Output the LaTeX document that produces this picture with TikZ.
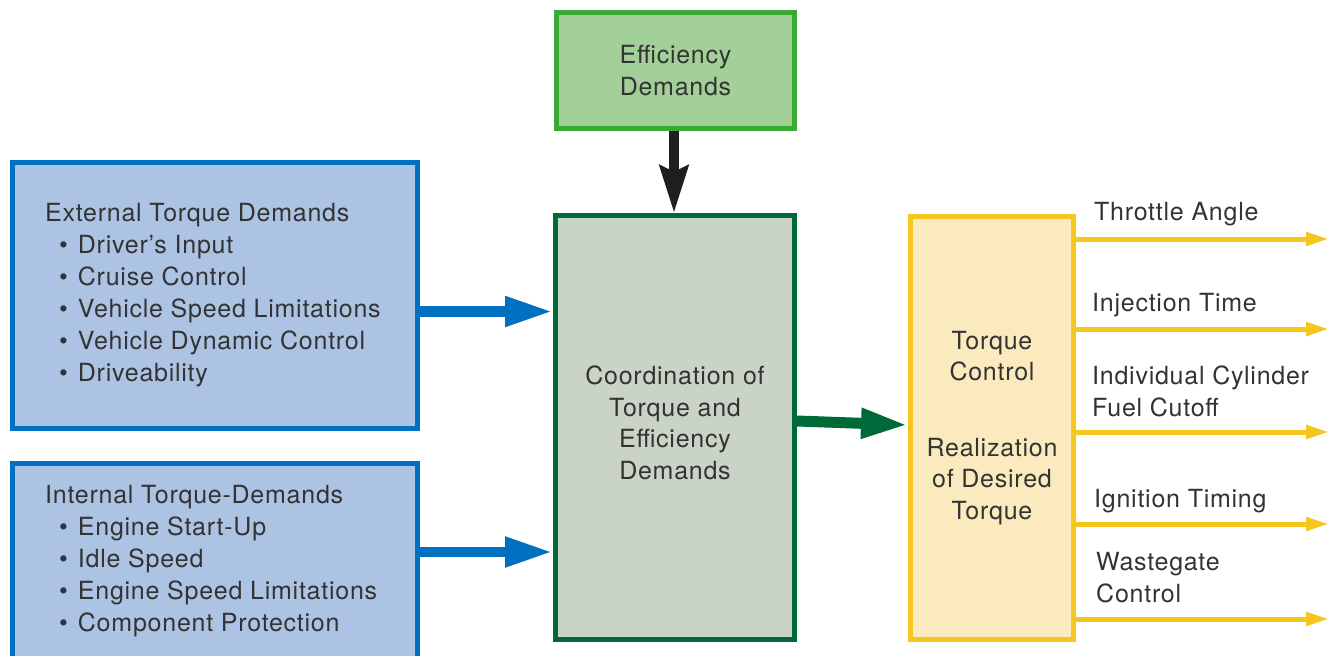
\documentclass[tikz,border=0pt]{standalone}
\usepackage{fontspec}
\setmainfont{TeX Gyre Heros}[LetterSpace=3]
\usetikzlibrary{arrows.meta,positioning}
\definecolor{blueline}{HTML}{0070C0}
\definecolor{bluefill}{HTML}{ADC3E4}
\definecolor{lgreenline}{HTML}{3BAA35}
\definecolor{lgreenfill}{HTML}{A3D098}
\definecolor{dgreenline}{HTML}{00693A}
\definecolor{dgreenfill}{HTML}{C9D3C6}
\definecolor{yelline}{HTML}{F5C61E}
\definecolor{yelfill}{HTML}{FAEABD}
\definecolor{txt}{HTML}{333333}
\newcommand{\bitem}{\hspace*{14pt}\textbullet\hspace{10pt}}
\tikzset{
	box/.style={draw,line width=5pt,inner sep=0pt,text=txt,align=center,font=\fontsize{25}{31.5}\selectfont},
	bluebox/.style={box,draw=blueline,fill=bluefill,minimum width=405pt},
	effbox/.style={box,draw=lgreenline,fill=lgreenfill,minimum width=238pt,minimum height=116pt},
	coordbox/.style={box,draw=dgreenline,fill=dgreenfill,minimum width=239pt,minimum height=424pt},
	torqbox/.style={box,draw=yelline,fill=yelfill,minimum width=163pt,minimum height=423pt},
	listtext/.style={align=left,inner sep=0pt,text=txt,font=\fontsize{25}{32}\selectfont},
	outlabel/.style={listtext,anchor=base west},
	bluearrow/.style={draw=blueline,line width=10.5pt,-{Triangle[length=48pt,width=28pt]}},
	darrow/.style={draw=black!88,line width=10pt,-{Stealth[length=47pt,width=28pt,inset=6pt]}},
	greenarrow/.style={draw=dgreenline,line width=11pt,-{Triangle[length=47pt,width=28pt]}},
	yelarrow/.style={draw=yelline,line width=5pt,-{Triangle[length=23pt,width=13pt]}}}

\begin{document}
\begin{tikzpicture}[x=1pt,y=-1pt]
	\useasboundingbox (0,0) rectangle (1331,656);
	% boxes
	\node (ext) at (215,295.5) [bluebox,minimum height=266pt] {};
	\node (int) at (215,583.5) [bluebox,minimum height=240pt] {};
	\node (eff) at (675.5,70.5) [effbox] {Efficiency\\Demands};
	\node (coord) at (675,427.5) [coordbox] {Coordination of\\Torque and\\Efficiency\\Demands\\[-21.5pt]};
	\node (torq) at (992,428) [torqbox] {Torque\\Control\\[44pt]Realization\\of Desired\\Torque};
	% lists (base is the last line)
	\node (extlist) at (45,381) [listtext,anchor=base west] {External Torque Demands\\
		\bitem Driver's Input\\
		\bitem Cruise Control\\
		\bitem Vehicle Speed Limitations\\
		\bitem Vehicle Dynamic Control\\
		\bitem Driveability};
	\node (intlist) at (45,631) [listtext,anchor=base west] {Internal Torque-Demands\\
		\bitem Engine Start-Up\\
		\bitem Idle Speed\\
		\bitem Engine Speed Limitations\\
		\bitem Component Protection};
	% outputs
	\coordinate (thr) at (1329,239);
	\coordinate (inj) at (1329,329);
	\coordinate (cyl) at (1329,432);
	\coordinate (ign) at (1329,524);
	\coordinate (wg) at (1329,619);
	\node (thrlab) at (1094,220) [outlabel] {Throttle Angle};
	\node (injlab) at (1092,311) [outlabel] {Injection Time};
	\node (cyllab) at (1092,416) [outlabel] {Individual Cylinder\\Fuel Cutoff};
	\node (ignlab) at (1094,507) [outlabel] {Ignition Timing};
	\node (wglab) at (1096,602) [outlabel] {Wastegate\\Control};
	% arrows
	\draw [bluearrow] (ext.east |- 0,311.5) -- (coord.west |- 0,311.5);
	\draw [bluearrow] (int.east |- 0,552) -- (coord.west |- 0,552);
	\draw [darrow] (eff.south -| 674,0) -- (coord.north -| 674,0);
	\draw [greenarrow] (coord.east |- 0,421) -- (torq.west |- 0,425);
	\draw [yelarrow] (torq.east |- thr) -- (thr);
	\draw [yelarrow] (torq.east |- inj) -- (inj);
	\draw [yelarrow] (torq.east |- cyl) -- (cyl);
	\draw [yelarrow] (torq.east |- ign) -- (ign);
	\draw [yelarrow] (torq.east |- wg) -- (wg);
\end{tikzpicture}
\end{document}
